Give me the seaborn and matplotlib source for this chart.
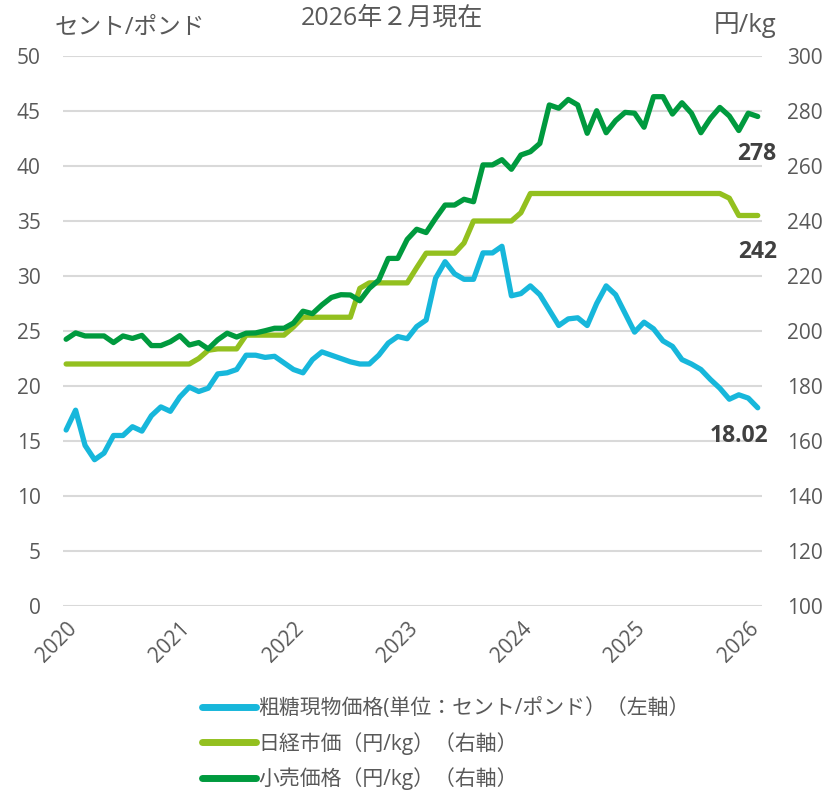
import numpy as np
import pandas as pd
import matplotlib
matplotlib.use("Agg")
import matplotlib.pyplot as plt
import seaborn as sns

# monthly data, 2020-01 .. 2026-02
raw_sugar = [16.0, 17.8, 14.6, 13.3, 13.9, 15.5, 15.5, 16.3, 15.9, 17.3, 18.1, 17.7,
             19.0, 19.9, 19.5, 19.8, 21.1, 21.2, 21.5, 22.8, 22.8, 22.6, 22.7, 22.1,
             21.5, 21.2, 22.4, 23.1, 22.8, 22.5, 22.2, 22.0, 22.0, 22.8, 23.9, 24.5,
             24.3, 25.4, 26.0, 29.8, 31.3, 30.2, 29.7, 29.7, 32.1, 32.1, 32.7, 28.2,
             28.4, 29.1, 28.3, 26.9, 25.5, 26.1, 26.2, 25.5, 27.5, 29.1, 28.3, 26.6,
             24.9, 25.8, 25.2, 24.1, 23.6, 22.4, 22.0, 21.5, 20.6, 19.8, 18.8, 19.2,
             18.9, 18.02]
nikkei = [188, 188, 188, 188, 188, 188, 188, 188, 188, 188, 188, 188,
          188, 188, 190, 193, 193.5, 193.5, 193.5, 198.5, 198.5, 198.5, 198.5, 198.5,
          201.5, 205, 205, 205, 205, 205, 205, 215.5, 217.5, 217.5, 217.5, 217.5,
          217.5, 223, 228.3, 228.3, 228.3, 228.3, 232, 240, 240, 240, 240, 240,
          243, 250, 250, 250, 250, 250, 250, 250, 250, 250, 250, 250,
          250, 250, 250, 250, 250, 250, 250, 250, 250, 250, 248.3, 242,
          242, 242]
retail = [197.0, 199.3, 198.2, 198.2, 198.2, 195.8, 198.2, 197.3, 198.4, 194.7, 194.7, 196.1,
          198.3, 194.9, 195.8, 193.5, 196.8, 199.2, 197.8, 199.2, 199.3, 200.1, 201.0, 201.0,
          202.9, 207.2, 206.3, 209.5, 212.2, 213.2, 213.1, 211.0, 215.5, 218.5, 226.4, 226.4,
          233.3, 237.0, 235.8, 241.0, 245.8, 245.8, 247.9, 247.0, 260.4, 260.4, 262.3, 258.8,
          264.0, 265.2, 268.2, 282.2, 281.0, 284.2, 282.2, 271.9, 280.1, 272.1, 276.5, 279.5,
          279.2, 274.1, 285.2, 285.2, 278.9, 283.0, 279.2, 272.1, 277.3, 281.3, 278.2, 272.9,
          279.2, 278.0]
year_labels = ["2020", "2021", "2022", "2023", "2024", "2025", "2026"]
series_names = ["粗糖現物価格(単位：セント/ポンド）（左軸）",
                "日経市価（円/kg）（右軸）",
                "小売価格（円/kg）（右軸）"]

blue = "#17B7DB"
light_green = "#93C01F"
dark_green = "#009A3E"
grey_text = "#595959"

sns.set_theme(style="white")
plt.rcParams["font.family"] = ["Open Sans", "Noto Sans CJK JP", "DejaVu Sans"]

df = pd.DataFrame({"month": np.arange(len(raw_sugar)),
                   "raw": raw_sugar, "nikkei": nikkei, "retail": retail})

fig = plt.figure(figsize=(8.27, 7.92), dpi=100)
ax = fig.add_axes([63 / 827, 1 - 606 / 792, 699 / 827, 550 / 792])
ax2 = ax.twinx()

sns.lineplot(data=df, x="month", y="raw", ax=ax, color=blue, lw=3.8,
             label=series_names[0], legend=False)
sns.lineplot(data=df, x="month", y="nikkei", ax=ax2, color=light_green, lw=3.8,
             label=series_names[1], legend=False)
sns.lineplot(data=df, x="month", y="retail", ax=ax2, color=dark_green, lw=3.8,
             label=series_names[2], legend=False)

ax.set_xlim(-0.33, len(raw_sugar) - 1 + 0.45)
ax.set_ylim(0, 50)
ax2.set_ylim(100, 300)
ax.set_yticks(np.arange(0, 51, 5))
ax2.set_yticks(np.arange(100, 301, 20))
ax.set_xticks(np.arange(0, 12 * len(year_labels), 12))
ax.set_xticklabels(year_labels, rotation=45, ha="right", rotation_mode="anchor")

ax.yaxis.grid(True, color="#D9D9D9", lw=1.5)
ax.xaxis.grid(False)
ax2.grid(False)
for a in (ax, ax2):
    for s in a.spines.values():
        s.set_visible(False)
    a.set_xlabel("")
    a.set_ylabel("")
    a.tick_params(axis="both", length=0, labelsize=15, labelcolor=grey_text)
ax.tick_params(axis="y", pad=16)
ax2.tick_params(axis="y", pad=18)
ax.tick_params(axis="x", pad=9)

# end labels
last = len(raw_sugar) - 1
lab = dict(fontsize=16.5, fontweight="bold", color="#404040", ha="right", va="center",
           textcoords="offset pixels")
ax2.annotate(f"{retail[-1]:.0f}", (last, retail[-1]), xytext=(19, -37), **lab)
ax2.annotate(f"{nikkei[-1]:.0f}", (last, nikkei[-1]), xytext=(19, -37), **lab)
ax.annotate(f"{raw_sugar[-1]:.2f}", (last, raw_sugar[-1]), xytext=(11, -28), **lab)

fig.text(392 / 827, 1 - 18 / 792, "2026年２月現在", ha="center", va="center",
         fontsize=18, color=grey_text)
fig.text(130 / 827, 1 - 28 / 792, "セント/ポンド", ha="center", va="center",
         fontsize=17, color=grey_text)
fig.text(745 / 827, 1 - 25 / 792, "円/kg", ha="center", va="center",
         fontsize=18.5, color=grey_text)

h1, l1 = ax.get_legend_handles_labels()
h2, l2 = ax2.get_legend_handles_labels()
leg = fig.legend(h1 + h2, l1 + l2, loc="upper left",
                 bbox_to_anchor=(192 / 827, 1 - 688 / 792), frameon=False,
                 fontsize=15, handlelength=2.55, handletextpad=0.12,
                 labelspacing=0.6, borderpad=0)
for t in leg.get_texts():
    t.set_color(grey_text)
for line in leg.get_lines():
    line.set_linewidth(5)
    line.set_solid_capstyle("round")

fig.savefig("out.png", dpi=100)
